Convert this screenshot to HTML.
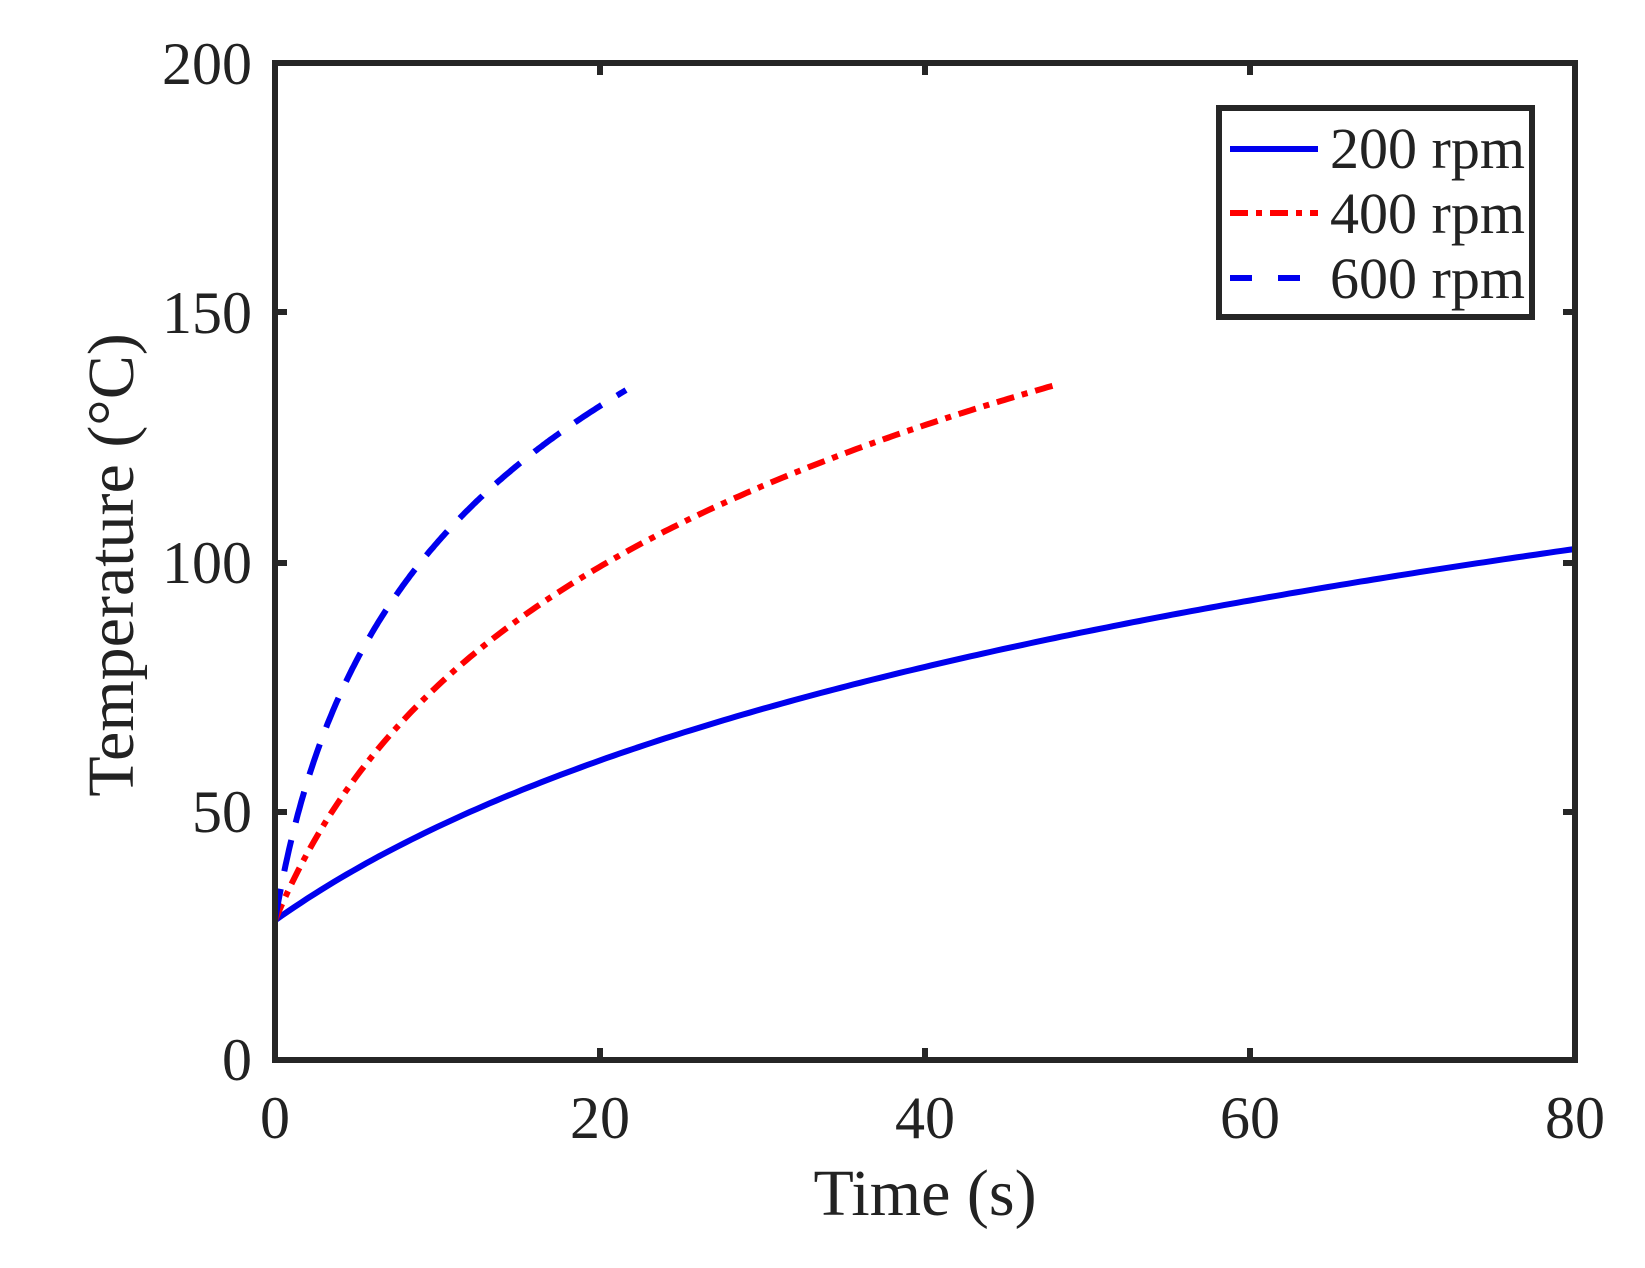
<!DOCTYPE html>
<html><head><style>body{margin:0;background:#fff}</style></head><body>
<svg width="1645" height="1263" xmlns="http://www.w3.org/2000/svg" font-family="Liberation Serif, serif">
<rect width="1645" height="1263" fill="#fff"/>
<g id="curves" fill="none" stroke-width="6"></g>
<g stroke="#262626" stroke-width="6" fill="none">
<rect x="275" y="63" width="1300" height="997"/>
<path d="M275,812h12M275,563h12M275,312h12M1575,812h-12M1575,563h-12M1575,312h-12M600,1060v-12M925,1060v-12M1250,1060v-12M600,63v12M925,63v12M1250,63v12"/>
</g>
<g font-size="60" fill="#222" text-anchor="end">
<text x="252" y="1080">0</text><text x="252" y="832">50</text><text x="252" y="583">100</text><text x="252" y="333">150</text><text x="252" y="84">200</text>
</g>
<g font-size="60" fill="#222" text-anchor="middle">
<text x="275" y="1138">0</text><text x="600" y="1138">20</text><text x="925" y="1138">40</text><text x="1250" y="1138">60</text><text x="1575" y="1138">80</text>
<text x="925" y="1215" font-size="66">Time (s)</text>
<text transform="translate(133,565) rotate(-90)" font-size="66">Temperature (°C)</text>
</g>
<rect x="1219" y="108" width="313" height="209" fill="#fff" stroke="#262626" stroke-width="6"/>
<g stroke-width="6">
<line x1="1230" y1="149" x2="1318" y2="149" stroke="#0000ee"/>
<line x1="1230" y1="213" x2="1318" y2="213" stroke="#ff0000" stroke-dasharray="18,8,6,8"/>
<line x1="1230" y1="278" x2="1300" y2="278" stroke="#0000ee" stroke-dasharray="22,26"/>
</g>
<g font-size="58" fill="#222">
<text x="1330" y="168">200 rpm</text><text x="1330" y="233">400 rpm</text><text x="1330" y="298">600 rpm</text>
</g>
<script>
var g=document.getElementById('curves');
function px(t){return 275+t*16.25} function py(T){return 1060-T*4.985}
function mk(a,b,tmax,col,dash){var d='';for(var i=0;i<=200;i++){var t=tmax*i/200;var T=28+a*Math.log(1+t/b);d+=(i?'L':'M')+px(t).toFixed(1)+','+py(T).toFixed(1);}
var e=document.createElementNS('http://www.w3.org/2000/svg','path');e.setAttribute('d',d);e.setAttribute('stroke',col);if(dash)e.setAttribute('stroke-dasharray',dash);g.appendChild(e);}
mk(46.3,20,80,'#0000ee');
mk(50.5,6.5,48,'#ff0000','18,8,6,8');
mk(46.2,2.4,21.6,'#0000ee','32,18');
</script>
</svg>
</body></html>
